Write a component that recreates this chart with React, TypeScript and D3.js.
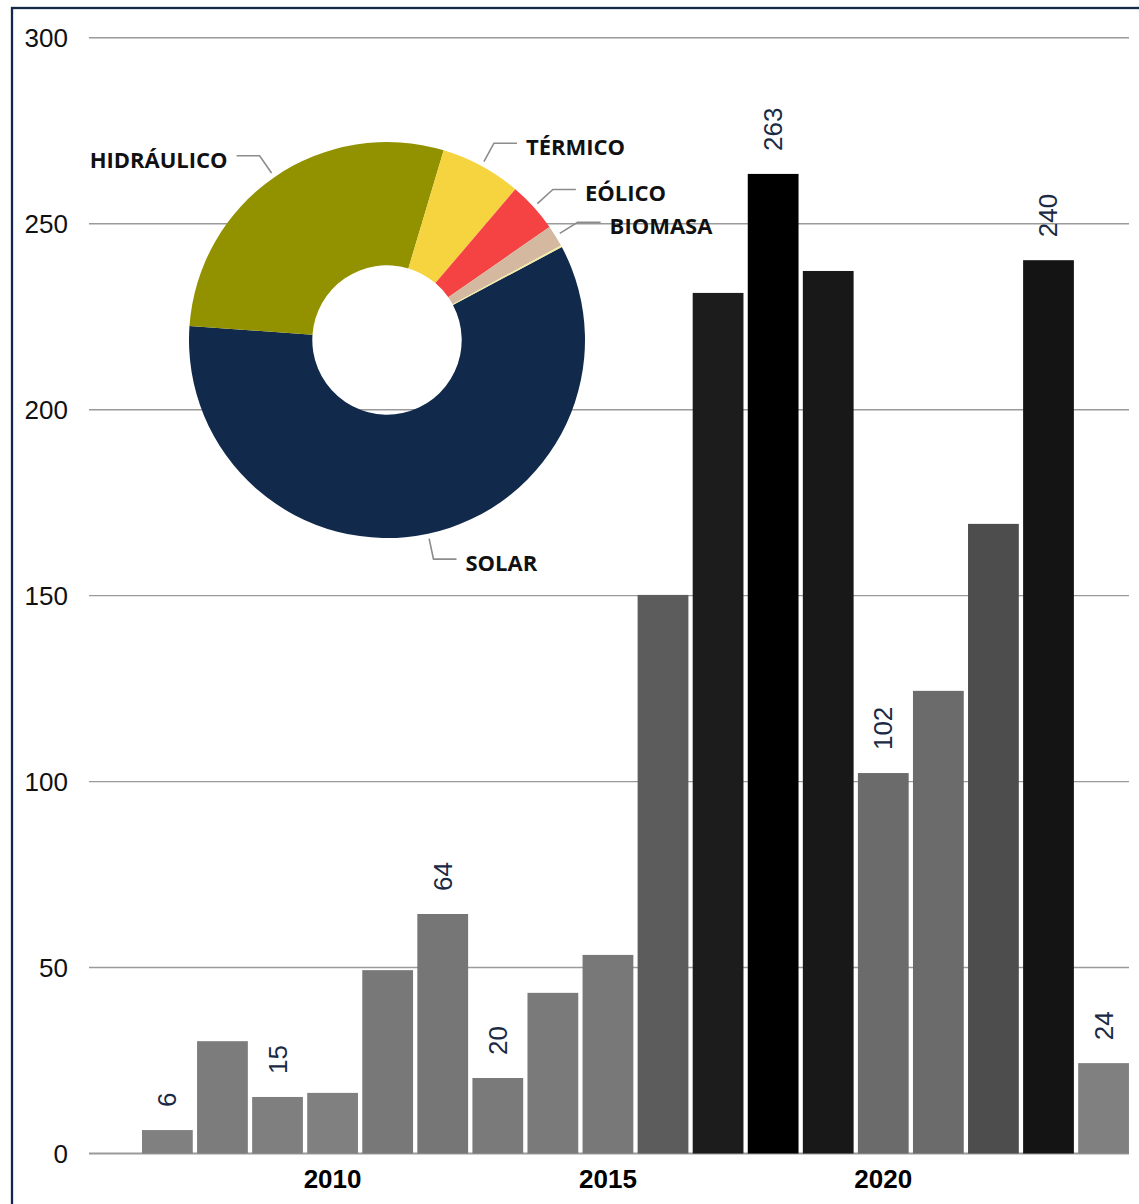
import React from "react";
import * as d3 from "d3";

const years = [2007, 2008, 2009, 2010, 2011, 2012, 2013, 2014, 2015, 2016, 2017, 2018, 2019, 2020, 2021, 2022, 2023, 2024];
const values = [6.3, 30.2, 15.2, 16.3, 49.3, 64.4, 20.3, 43.2, 53.4, 150.2, 231.4, 263.4, 237.3, 102.3, 124.4, 169.3, 240.2, 24.3];
const barColors = ["#808080", "#7c7c7c", "#7f7f7f", "#808080", "#787878", "#767676", "#7a7a7a", "#7a7a7a", "#787878", "#5c5c5c", "#1c1c1c", "#000000", "#181818", "#6b6b6b", "#6b6b6b", "#4d4d4d", "#141414", "#808080"];
const barLabels = ["6", null, "15", null, null, "64", "20", null, null, null, null, "263", null, "102", null, null, "240", "24"];
const yTicks = [0, 50, 100, 150, 200, 250, 300];
const xTickYears = [2010, 2015, 2020];

const pieNames = ["SOLAR", "HIDRÁULICO", "TÉRMICO", "EÓLICO", "BIOMASA", ""];
const pieValues = [58.9, 28.5, 6.6, 4.1, 1.75, 0.15];
const pieColors = ["#112a4b", "#929200", "#f5d43f", "#f54242", "#d5b8a0", "#f3eba0"];

export default function App() {
  const W = 1139, H = 1204;
  const y = d3.scaleLinear().domain([0, 300]).range([1153.5, 37.8]);
  const x = d3.scaleBand<number>().domain(years).range([139.85, 1131.1]).paddingInner(0.078).paddingOuter(0.039);
  const gridX0 = 89, gridX1 = 1129;

  const cx = 387, cy = 340, rOuter = 198, rInner = 74.7;
  const startA = (62 * Math.PI) / 180;
  const pie = d3.pie<number>().sort(null).value((d) => d).startAngle(startA).endAngle(startA + 2 * Math.PI);
  const arcs = pie(pieValues);
  const arcGen = d3.arc<d3.PieArcDatum<number>>().innerRadius(rInner).outerRadius(rOuter);

  return (
    <svg width={W} height={H} style={{ display: "block", position: "absolute", left: 0, top: 0 }}>
      <rect x={0} y={0} width={W} height={H} fill="#ffffff" />
      {yTicks.map((t) => (
        <g key={t}>
          <line x1={gridX0} x2={gridX1} y1={y(t)} y2={y(t)} stroke="#9a9a9a" strokeWidth={t === 0 ? 2 : 1.4} />
          <text x={68} y={y(t)} textAnchor="end" dominantBaseline="central" fontFamily="Liberation Sans, Arial, sans-serif" fontSize={26} fill="#111">
            {t}
          </text>
        </g>
      ))}
      {years.map((yr, i) => (
        <rect key={yr} x={x(yr)} y={y(values[i])} width={x.bandwidth()} height={y(0) - y(values[i])} fill={barColors[i]} />
      ))}
      {years.map((yr, i) =>
        barLabels[i] ? (
          <text
            key={"l" + yr}
            transform={`translate(${(x(yr) as number) + x.bandwidth() / 2},${y(values[i]) - 23}) rotate(-90)`}
            textAnchor="start"
            dominantBaseline="central"
            fontFamily="Liberation Sans, Arial, sans-serif"
            fontSize={26}
            fill="#1b2a44"
          >
            {barLabels[i]}
          </text>
        ) : null
      )}
      {xTickYears.map((yr) => (
        <text key={"x" + yr} x={(x(yr) as number) + x.bandwidth() / 2} y={1188} textAnchor="middle" fontFamily="Liberation Sans, Arial, sans-serif" fontWeight="bold" fontSize={26} fill="#000">
          {yr}
        </text>
      ))}
      <g transform={`translate(${cx},${cy})`}>
        {arcs.map((a, i) => (
          <path key={i} d={arcGen(a) as string} fill={pieColors[i]} />
        ))}
        {arcs.map((a, i) => {
          if (!pieNames[i]) return null;
          const mid = (a.startAngle + a.endAngle) / 2;
          const p1 = [203 * Math.sin(mid), -203 * Math.cos(mid)];
          const p2 = [224 * Math.sin(mid), -224 * Math.cos(mid)];
          const right = Math.sin(mid) >= 0;
          const p3 = [p2[0] + (right ? 23 : -23), p2[1]];
          const tx = p3[0] + (right ? 9 : -9);
          return (
            <g key={"pl" + i}>
              <polyline points={[p1, p2, p3].map((p) => p.join(",")).join(" ")} fill="none" stroke="#8c8c8c" strokeWidth={1.6} />
              <text x={tx} y={p3[1] + 3} textAnchor={right ? "start" : "end"} dominantBaseline="central" fontFamily="Open Sans, sans-serif" fontWeight="bold" fontSize={22} fill="#111">
                {pieNames[i]}
              </text>
            </g>
          );
        })}
      </g>
      <rect x={12} y={8} width={W + 20} height={H + 20} fill="none" stroke="#12294a" strokeWidth={2.3} />
    </svg>
  );
}
